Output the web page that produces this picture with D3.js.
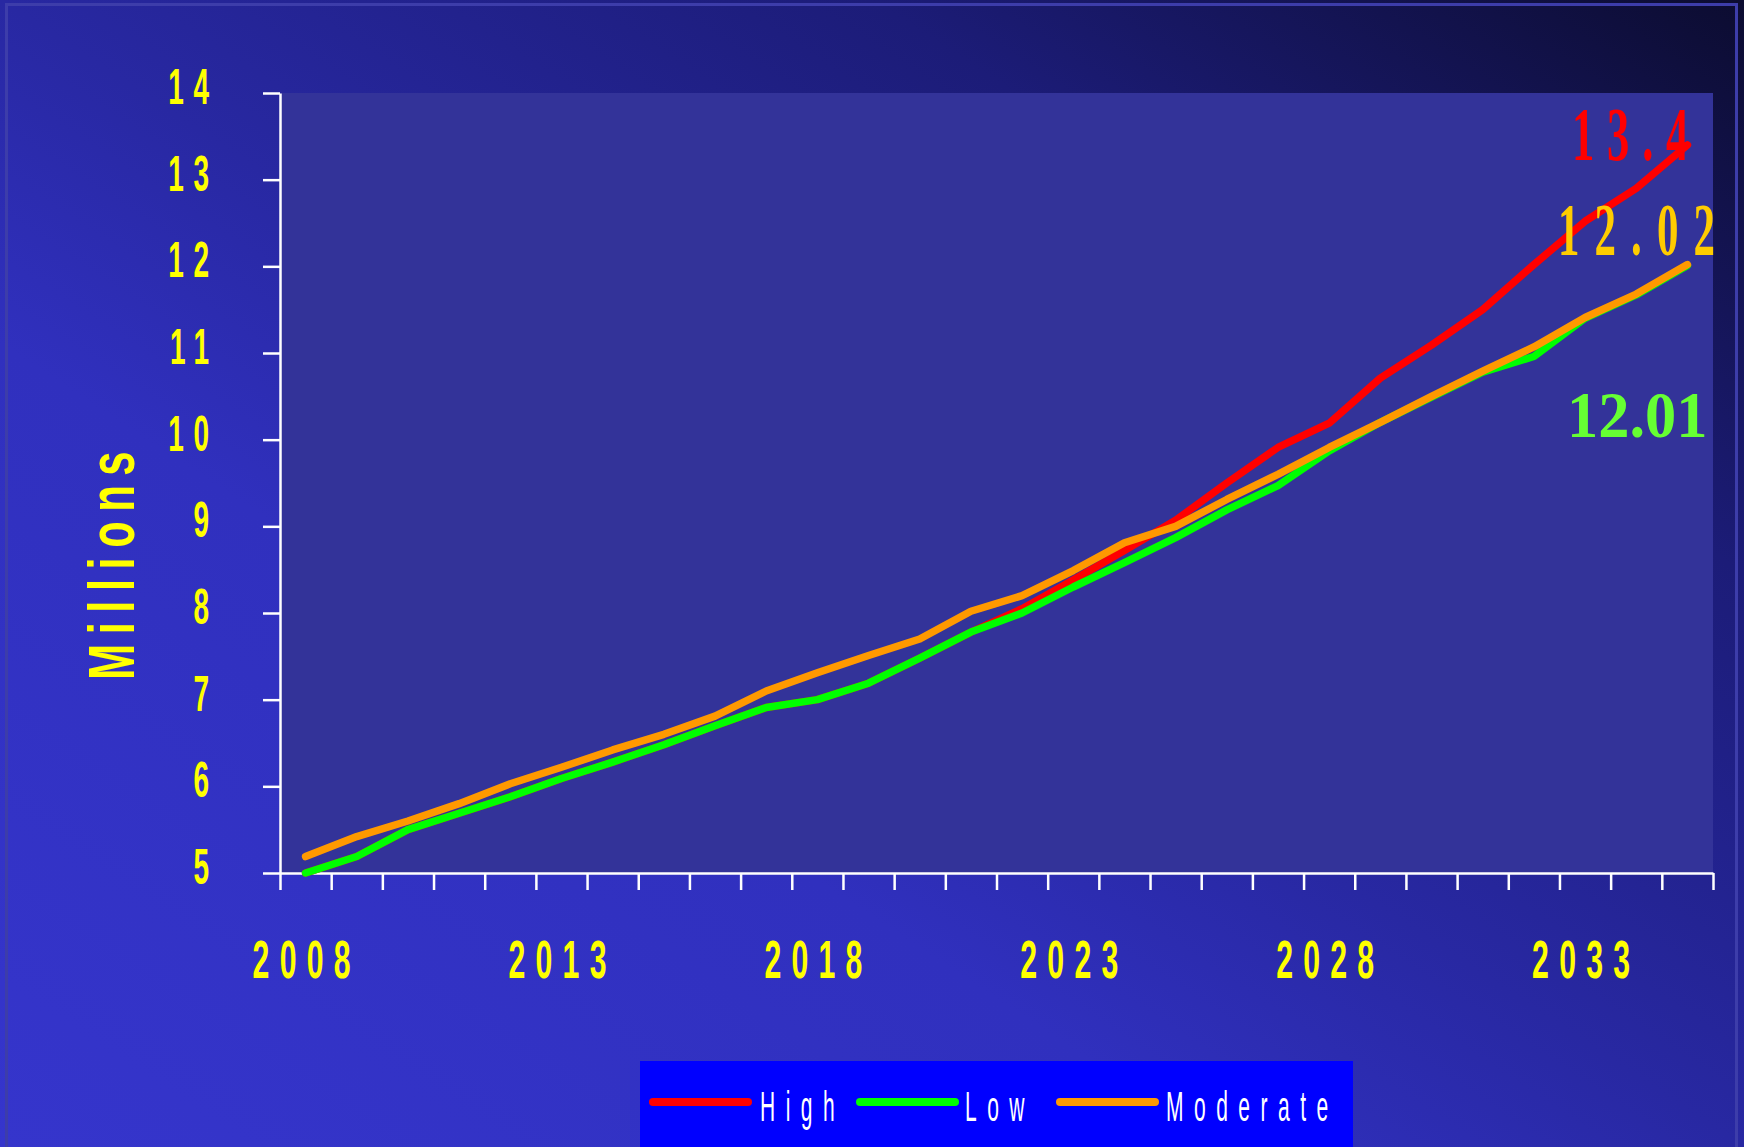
<!DOCTYPE html>
<html><head><meta charset="utf-8">
<script src="https://cdn.jsdelivr.net/npm/d3@7"></script>
<style>html,body{margin:0;padding:0;background:#2a2aa6;overflow:hidden}</style>
</head><body><svg id="c" width="1744" height="1147"></svg>
<script>
const years = [2008,2009,2010,2011,2012,2013,2014,2015,2016,2017,2018,2019,2020,2021,2022,2023,2024,2025,2026,2027,2028,2029,2030,2031,2032,2033,2034,2035];
const high = [5.00,5.19,5.50,5.69,5.88,6.09,6.28,6.48,6.70,6.91,7.00,7.19,7.48,7.78,8.05,8.38,8.72,9.07,9.50,9.91,10.19,10.71,11.09,11.50,12.02,12.52,12.90,13.40];
const low = [5.00,5.19,5.50,5.69,5.88,6.09,6.28,6.48,6.70,6.91,7.00,7.19,7.48,7.78,8.00,8.30,8.58,8.87,9.19,9.47,9.87,10.20,10.49,10.78,10.96,11.40,11.67,12.01];
const moderate = [5.19,5.42,5.60,5.80,6.03,6.22,6.42,6.60,6.81,7.10,7.31,7.51,7.70,8.02,8.20,8.49,8.81,9.00,9.31,9.60,9.91,10.20,10.50,10.79,11.07,11.41,11.68,12.02];
const yTicks = [5,6,7,8,9,10,11,12,13,14];
const yearLabels = [2008,2013,2018,2023,2028,2033];
const seriesNames = ["High","Low","Moderate"];
const seriesColors = ["#ff0000","#00ff00","#ff9900"];
const endLabels = ["13.4","12.01","12.02"];
const endLabelColors = ["#ff0000","#66ff33","#ffcc00"];
const yTitle = "Millions";

const W = 1744, H = 1147;
const m = {l:280, t:93, r:1713, b:873};
const svg = d3.select("#c");

const defs = svg.append("defs");
const g0 = defs.append("linearGradient").attr("id","bg")
  .attr("x1",0).attr("y1",1).attr("x2",1).attr("y2",0);
[[0,"#3535cc"],[0.35,"#3030be"],[0.5,"#2828a2"],[0.75,"#1c1c78"],[1,"#0c0c30"]]
  .forEach(s => g0.append("stop").attr("offset",s[0]).attr("stop-color",s[1]));

svg.append("rect").attr("width",W).attr("height",H).attr("fill","url(#bg)");
svg.append("rect").attr("x",6.5).attr("y",4.5).attr("width",1730).attr("height",1300)
  .attr("fill","none").attr("stroke","#3d3daa").attr("stroke-width",3);

svg.append("rect").attr("x",m.l).attr("y",m.t).attr("width",m.r-m.l).attr("height",m.b-m.t)
  .attr("fill","#333399");

const x = d3.scaleLinear().domain([years[0], years[years.length-1]+1]).range([m.l, m.r]);
const y = d3.scaleLinear().domain([5,14]).range([m.b, m.t]);

function ctext(parent, str, o){
  const sx = o.sx || 1, ls = o.ls || 0;
  let dx = 0;
  if (o.anchor === "end") dx = ls*sx;
  else if (o.anchor === "middle") dx = ls*sx/2;
  const g = parent.append("g").attr("transform", `translate(${o.x+dx},${o.y})` + (o.rot ? ` rotate(${o.rot})` : ""));
  g.append("text").attr("transform", `scale(${sx},1)`)
    .attr("text-anchor", o.anchor || "start")
    .attr("font-family", o.family || "'Liberation Sans', Arial, sans-serif")
    .attr("font-weight", o.weight || "normal")
    .attr("font-size", o.size)
    .attr("letter-spacing", ls)
    .attr("fill", o.fill)
    .text(str);
}

// axes
const xTickVals = years.concat([years[years.length-1]+1]);
const xAxis = d3.axisBottom(x).tickValues(xTickVals).tickSize(17).tickSizeOuter(0).tickFormat("");
const yAxis = d3.axisLeft(y).tickValues(yTicks).tickSize(17).tickSizeOuter(0).tickFormat("");
const gx = svg.append("g").attr("transform",`translate(0,${m.b})`).call(xAxis);
const gy = svg.append("g").attr("transform",`translate(${m.l},0)`).call(yAxis);
[gx,gy].forEach(g => {
  g.selectAll("path,line").attr("stroke","#ffffff").attr("stroke-width",2.5);
});

// y tick labels
yTicks.forEach(v => ctext(svg, String(v), {x:209, y:y(v)+11, size:50, sx:0.56, ls:17,
  anchor:"end", weight:"bold", fill:"#ffff00"}));
// year labels
yearLabels.forEach(yr => ctext(svg, String(yr), {x:x(yr+0.5)-4, y:978, size:53, sx:0.57, ls:18,
  anchor:"middle", weight:"bold", fill:"#ffff00"}));
// y title
ctext(svg, yTitle, {x:129, y:561, rot:-90, size:64, sx:0.68, ls:14, anchor:"middle",
  weight:"bold", fill:"#ffff00"});

// lines
const data = [high, low, moderate];
const line = d3.line().x((d,i) => x(years[i]+0.5)).y(d => y(d));
data.forEach((s,k) => {
  svg.append("path").datum(s).attr("d", line).attr("fill","none")
    .attr("stroke", seriesColors[k]).attr("stroke-width",7.5)
    .attr("stroke-linecap","round").attr("stroke-linejoin","round");
});

// end labels
const serif = "'Liberation Serif','Times New Roman',serif";
ctext(svg, endLabels[0], {x:1572, y:160, size:77, sx:0.58, ls:22, weight:"bold", family:serif, fill:endLabelColors[0]});
ctext(svg, endLabels[2], {x:1558, y:255, size:74, sx:0.58, ls:26, weight:"bold", family:serif, fill:endLabelColors[2]});
ctext(svg, endLabels[1], {x:1567, y:437, size:65, sx:0.96, ls:0, weight:"bold", family:serif, fill:endLabelColors[1]});

// legend
svg.append("rect").attr("x",640).attr("y",1061).attr("width",713).attr("height",100).attr("fill","#0000ff");
const legSw = [653, 860, 1060];
const legTx = [760, 965, 1166];
seriesNames.forEach((n,k) => {
  svg.append("line").attr("x1",legSw[k]).attr("x2",legSw[k]+95).attr("y1",1102).attr("y2",1102)
    .attr("stroke",seriesColors[k]).attr("stroke-width",8).attr("stroke-linecap","round");
  ctext(svg, n, {x:legTx[k], y:1121, size:42, sx:0.5, ls:21, fill:"#ffffff"});
});
</script></body></html>
